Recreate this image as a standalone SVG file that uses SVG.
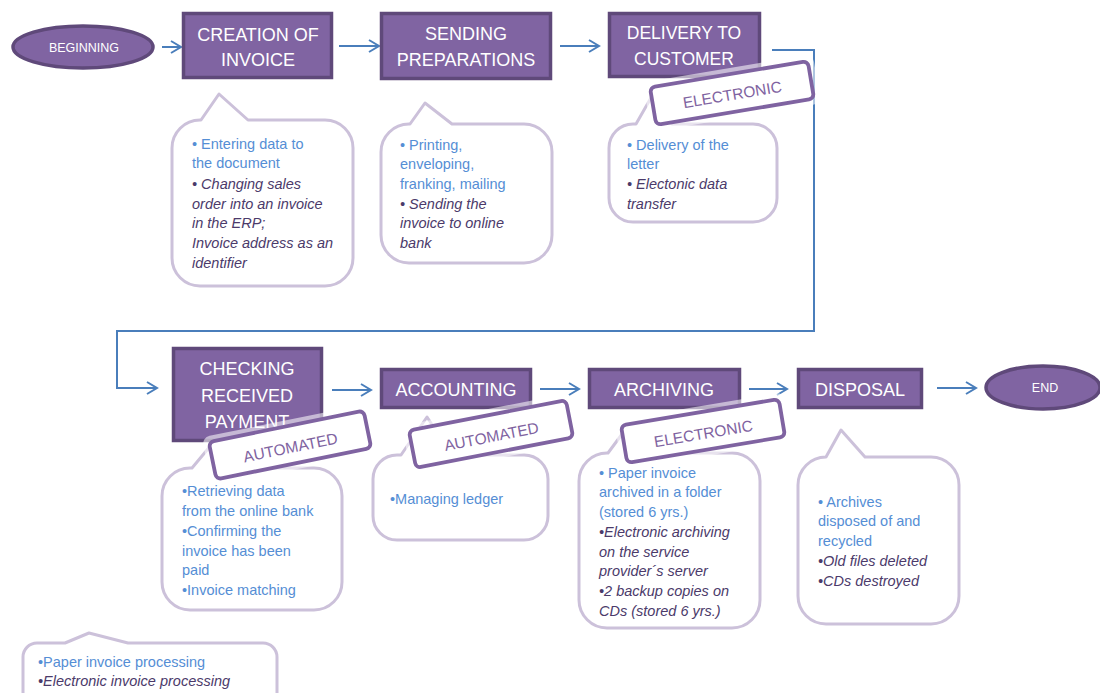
<svg xmlns="http://www.w3.org/2000/svg" width="1100" height="693" viewBox="0 0 1100 693">
<defs>
<style>
.box{fill:#8064A2;stroke:#5F497A;stroke-width:3.5}
.term{fill:#8064A2;stroke:#5F497A;stroke-width:3.5}
.bt{font-family:"Liberation Sans",Arial,sans-serif;font-size:18px;fill:#FFFFFF;text-anchor:middle}
.tt{font-family:"Liberation Sans",Arial,sans-serif;font-size:12.5px;fill:#FFFFFF;text-anchor:middle}
.call{fill:#FFFFFF;stroke:#CCC1DA;stroke-width:3;stroke-linejoin:round}
.ct{font-family:"Liberation Sans",Arial,sans-serif;font-size:14.5px}
.b{fill:#558ED5}
.i{fill:#4B3A6A;font-style:italic}
.tag{fill:#FFFFFF;stroke:#7F63A1;stroke-width:3.8}
.glow{fill:#FFFFFF;opacity:0.55}
.tagt{font-family:"Liberation Sans",Arial,sans-serif;font-size:15.5px;fill:#7F63A1;text-anchor:middle}
.con{fill:none;stroke:#4A7EBB;stroke-width:2;marker-end:url(#arr)}
</style>
<marker id="arr" markerUnits="userSpaceOnUse" markerWidth="14" markerHeight="14" refX="11" refY="7" orient="auto" viewBox="0 0 14 14">
<path d="M1,1 L11,7 L1,13" fill="none" stroke="#4A7EBB" stroke-width="2"/>
</marker>
</defs>
<rect width="1100" height="693" fill="#FFFFFF"/>

<g id="connectors">
<path class="con" d="M162,47 L181,47"/>
<path class="con" d="M339,46 L379,46"/>
<path class="con" d="M560,46 L599,46"/>
<path class="con" d="M772,50 L814,50 L814,331 L117,331 L117,388 L157,388"/>
<path class="con" d="M332,390 L371,390"/>
<path class="con" d="M540,389 L579,389"/>
<path class="con" d="M749,389 L787,389"/>
<path class="con" d="M937,388 L976,388"/>
</g>

<g id="beginning">
<ellipse class="term" cx="83" cy="47" rx="70" ry="21"/>
<text class="tt" x="84" y="52">BEGINNING</text>
</g>

<g id="creation">
<rect class="box" x="183.5" y="13.5" width="148" height="64"/>
<text class="bt" x="258" y="41">CREATION OF</text>
<text class="bt" x="258" y="66">INVOICE</text>
</g>

<g id="sending">
<rect class="box" x="381.5" y="13.5" width="169" height="65"/>
<text class="bt" x="466" y="40">SENDING</text>
<text class="bt" x="466" y="66">PREPARATIONS</text>
</g>

<g id="delivery">
<rect class="box" x="609.5" y="13.5" width="150" height="63"/>
<text class="bt" x="684" y="39" style="font-size:17.5px">DELIVERY TO</text>
<text class="bt" x="684" y="65" style="font-size:17.5px">CUSTOMER</text>
</g>

<g id="checking">
<rect class="box" x="173.5" y="348.5" width="148" height="92"/>
<text class="bt" x="247" y="375">CHECKING</text>
<text class="bt" x="247" y="402">RECEIVED</text>
<text class="bt" x="247" y="428">PAYMENT</text>
</g>

<g id="accounting">
<rect class="box" x="381.5" y="369.5" width="149" height="38"/>
<text class="bt" x="456" y="396">ACCOUNTING</text>
</g>

<g id="archiving">
<rect class="box" x="589.5" y="369.5" width="150" height="38"/>
<text class="bt" x="664" y="396">ARCHIVING</text>
</g>

<g id="disposal">
<rect class="box" x="798.5" y="369.5" width="123" height="38"/>
<text class="bt" x="860" y="396">DISPOSAL</text>
</g>

<g id="end">
<ellipse class="term" cx="1043" cy="387.5" rx="57" ry="21.5"/>
<text class="tt" x="1045" y="392">END</text>
</g>

<g id="note-creation">
<path class="call" d="M201,120 L219,94 L248,120 L325,120 A28,28 0 0 1 353,148 L353,258 A28,28 0 0 1 325,286 L200,286 A28,28 0 0 1 172,258 L172,148 A28,28 0 0 1 200,120 Z"/>
<text class="ct" x="192"><tspan class="b" x="192" y="149">• Entering data to</tspan><tspan class="b" x="192" y="168">the document</tspan><tspan class="i" x="192" y="189">• Changing sales</tspan><tspan class="i" x="192" y="209">order into an invoice</tspan><tspan class="i" x="192" y="228">in the ERP;</tspan><tspan class="i" x="192" y="248">Invoice address as an</tspan><tspan class="i" x="192" y="268">identifier</tspan></text>
</g>

<g id="note-sending">
<path class="call" d="M410,124 L425,103 L452,124 L524,124 A28,28 0 0 1 552,152 L552,235 A28,28 0 0 1 524,263 L409,263 A28,28 0 0 1 381,235 L381,152 A28,28 0 0 1 409,124 Z"/>
<text class="ct"><tspan class="b" x="400" y="150">• Printing,</tspan><tspan class="b" x="400" y="169">enveloping,</tspan><tspan class="b" x="400" y="189">franking, mailing</tspan><tspan class="i" x="400" y="209">• Sending the</tspan><tspan class="i" x="400" y="228">invoice to online</tspan><tspan class="i" x="400" y="248">bank</tspan></text>
</g>

<g id="note-delivery">
<path class="call" d="M636,124 L652,96 L672,124 L753,124 A24,24 0 0 1 777,148 L777,198 A24,24 0 0 1 753,222 L633,222 A24,24 0 0 1 609,198 L609,148 A24,24 0 0 1 633,124 Z"/>
<text class="ct"><tspan class="b" x="627" y="150">• Delivery of the</tspan><tspan class="b" x="627" y="169">letter</tspan><tspan class="i" x="627" y="189">• Electonic data</tspan><tspan class="i" x="627" y="209">transfer</tspan></text>
</g>

<g id="note-checking">
<path class="call" d="M192,468 L212,444 L240,468 L314,468 A28,28 0 0 1 342,496 L342,582 A28,28 0 0 1 314,610 L190,610 A28,28 0 0 1 162,582 L162,496 A28,28 0 0 1 190,468 Z"/>
<text class="ct b"><tspan x="182" y="496">•Retrieving data</tspan><tspan x="182" y="516">from the online bank</tspan><tspan x="182" y="536">•Confirming the</tspan><tspan x="182" y="556">invoice has been</tspan><tspan x="182" y="575">paid</tspan><tspan x="182" y="595">•Invoice matching</tspan></text>
</g>

<g id="note-accounting">
<path class="call" d="M401,455 L427,417 L452,455 L524,455 A24,24 0 0 1 548,479 L548,516 A24,24 0 0 1 524,540 L397,540 A24,24 0 0 1 373,516 L373,479 A24,24 0 0 1 397,455 Z"/>
<text class="ct b" x="390" y="504">•Managing ledger</text>
</g>

<g id="note-archiving">
<path class="call" d="M608,453 L628,426 L650,453 L732,453 A28,28 0 0 1 760,481 L760,600 A28,28 0 0 1 732,628 L607,628 A28,28 0 0 1 579,600 L579,481 A28,28 0 0 1 607,453 Z"/>
<text class="ct"><tspan class="b" x="599" y="478">• Paper invoice</tspan><tspan class="b" x="599" y="497">archived in a folder</tspan><tspan class="b" x="599" y="517">(stored 6 yrs.)</tspan><tspan class="i" x="599" y="537">•Electronic archiving</tspan><tspan class="i" x="599" y="557">on the service</tspan><tspan class="i" x="599" y="576">provider´s server</tspan><tspan class="i" x="599" y="596">•2 backup copies on</tspan><tspan class="i" x="599" y="616">CDs (stored 6 yrs.)</tspan></text>
</g>

<g id="note-disposal">
<path class="call" d="M826,457 L841,430 L865,457 L931,457 A28,28 0 0 1 959,485 L959,596 A28,28 0 0 1 931,624 L826,624 A28,28 0 0 1 798,596 L798,485 A28,28 0 0 1 826,457 Z"/>
<text class="ct"><tspan class="b" x="818" y="507">• Archives</tspan><tspan class="b" x="818" y="526">disposed of and</tspan><tspan class="b" x="818" y="546">recycled</tspan><tspan class="i" x="818" y="566">•Old files deleted</tspan><tspan class="i" x="818" y="586">•CDs destroyed</tspan></text>
</g>

<g id="legend">
<path class="call" d="M65,643 L89,633 L128,643 L263,643 A14,14 0 0 1 277,657 L277,720 L23,720 L23,657 A14,14 0 0 1 37,643 Z"/>
<text class="ct"><tspan class="b" x="38" y="667">•Paper invoice processing</tspan><tspan class="i" x="38" y="686">•Electronic invoice processing</tspan></text>
</g>

<g id="tag-delivery" transform="translate(732,93) rotate(-9.5)">
<rect class="glow" x="-86" y="-25" width="172" height="50" rx="8"/>
<rect class="tag" x="-80" y="-19" width="160" height="38" rx="5"/>
<text class="tagt" x="0" y="7">ELECTRONIC</text>
</g>

<g id="tag-checking" transform="translate(290,445) rotate(-11.5)">
<rect class="glow" x="-85" y="-25" width="170" height="50" rx="8"/>
<rect class="tag" x="-79" y="-19" width="158" height="38" rx="5"/>
<text class="tagt" x="0" y="8">AUTOMATED</text>
</g>

<g id="tag-accounting" transform="translate(491,434) rotate(-11)">
<rect class="glow" x="-86" y="-25" width="172" height="50" rx="8"/>
<rect class="tag" x="-80" y="-19" width="160" height="38" rx="5"/>
<text class="tagt" x="0" y="8">AUTOMATED</text>
</g>

<g id="tag-archiving" transform="translate(703,431) rotate(-9.5)">
<rect class="glow" x="-86" y="-25" width="172" height="50" rx="8"/>
<rect class="tag" x="-80" y="-19" width="160" height="38" rx="5"/>
<text class="tagt" x="0" y="8">ELECTRONIC</text>
</g>
</svg>
